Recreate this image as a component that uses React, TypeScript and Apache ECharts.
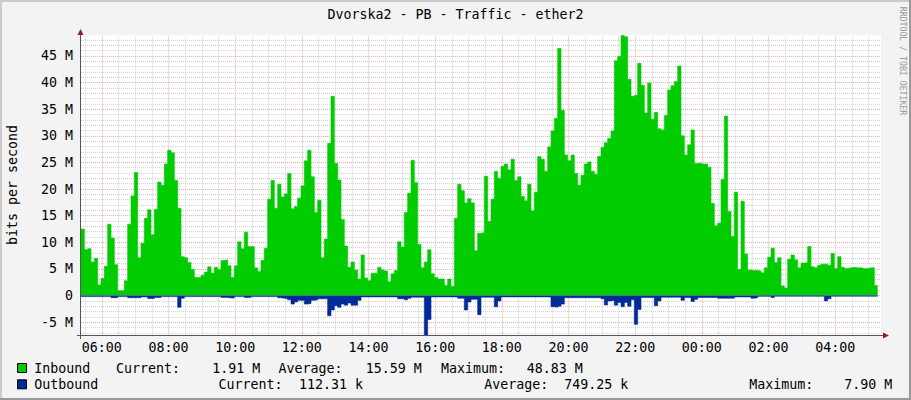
import React, { useEffect, useRef } from "react";
import * as echarts from "echarts";

// Time axis: hours since midnight of the first day (sample i covers START_HOUR + i*STEP .. +STEP)
const START_HOUR = 5.375;
const END_HOUR = 29.375;
const STEP_HOURS = 0.1;

// Inbound traffic, Mbit/s
const inbound = [
  12.5, 8.6, 8.8, 6.3, 7.0, 2.0, 3.2, 5.5, 13.4, 10.8,
  5.8, 0.9, 0.9, 2.8, 13.4, 18.7, 23.1, 7.1, 9.8, 14.5,
  16.1, 11.4, 16.2, 21.3, 20.7, 24.7, 27.3, 26.8, 21.6, 16.4,
  7.3, 7.1, 6.2, 4.9, 3.4, 3.4, 3.8, 4.4, 5.4, 4.2,
  5.3, 4.9, 6.6, 6.7, 5.6, 3.4, 5.6, 10.1, 8.8, 11.9,
  9.2, 9.2, 5.2, 4.5, 6.6, 8.9, 18.1, 21.6, 16.4, 20.9,
  18.5, 19.1, 22.9, 16.3, 16.7, 18.3, 20.6, 25.3, 27.3, 22.3,
  15.6, 17.9, 7.1, 10.6, 28.6, 37.4, 24.8, 21.7, 14.3, 9.3,
  5.3, 6.3, 4.8, 3.1, 7.6, 3.3, 2.8, 4.2, 4.2, 5.3,
  4.8, 4.6, 2.6, 4.1, 4.7, 10.1, 9.1, 15.6, 19.2, 25.4,
  21.2, 9.6, 5.2, 6.3, 8.6, 4.1, 3.4, 3.1, 3.1, 1.9,
  3.1, 1.7, 14.5, 20.9, 19.7, 17.4, 18.2, 17.4, 8.4, 11.7,
  11.8, 22.4, 13.9, 18.1, 23.3, 22.0, 24.3, 24.7, 23.6, 25.6,
  21.6, 22.3, 18.6, 17.8, 20.9, 15.9, 19.4, 26.1, 25.6, 23.3,
  27.9, 30.9, 33.3, 46.4, 34.8, 26.4, 25.3, 26.4, 22.9, 20.7,
  22.6, 24.7, 25.1, 23.3, 22.8, 26.1, 27.8, 28.7, 29.5, 30.9,
  44.1, 44.9, 48.83, 48.6, 40.6, 37.4, 37.6, 43.6, 39.5, 34.3,
  39.9, 33.1, 34.4, 31.3, 31.1, 33.8, 38.6, 39.4, 40.2, 43.1,
  30.0, 26.4, 28.3, 31.1, 24.8, 24.9, 24.7, 24.7, 24.1, 17.3,
  13.1, 13.6, 21.8, 33.7, 15.8, 11.1, 19.4, 4.9, 17.7, 7.8,
  4.8, 4.7, 4.7, 4.6, 4.3, 5.2, 7.2, 8.9, 6.2, 7.1,
  1.8, 1.4, 6.8, 7.6, 6.7, 5.2, 6.1, 6.2, 9.2, 5.4,
  5.2, 5.7, 5.9, 5.9, 5.7, 7.9, 5.1, 7.3, 5.3, 5.1,
  5.2, 5.3, 5.2, 5.2, 5.1, 5.1, 5.2, 5.2, 1.91,
];

// Outbound traffic, Mbit/s (drawn below zero)
const outbound = [
  -0.2, -0.2, -0.2, -0.2, -0.2, -0.2, -0.2, -0.2, -0.2, -0.4,
  -0.4, -0.2, -0.2, -0.2, -0.4, -0.4, -0.4, -0.4, -0.25, -0.25,
  -0.55, -0.55, -0.35, -0.35, -0.2, -0.2, -0.2, -0.2, -0.2, -2.2,
  -0.5, -0.2, -0.2, -0.2, -0.2, -0.2, -0.2, -0.2, -0.2, -0.2,
  -0.2, -0.2, -0.35, -0.35, -0.45, -0.45, -0.2, -0.2, -0.2, -0.35,
  -0.35, -0.2, -0.2, -0.2, -0.2, -0.2, -0.2, -0.2, -0.2, -0.4,
  -0.5, -0.6, -0.8, -1.6, -1.2, -0.9, -0.9, -1.6, -1.5, -0.9,
  -0.8, -0.6, -0.6, -0.6, -3.8, -2.7, -1.9, -2.2, -1.6, -1.8,
  -1.4, -1.8, -1.8, -0.9, -0.25, -0.25, -0.25, -0.25, -0.25, -0.25,
  -0.25, -0.25, -0.25, -0.25, -0.25, -0.6, -0.6, -0.8, -0.5, -0.3,
  -0.3, -0.3, -0.3, -7.45, -4.5, -0.25, -0.25, -0.25, -0.25, -0.25,
  -0.25, -0.25, -0.25, -0.5, -0.5, -2.7, -1.2, -0.7, -0.7, -3.6,
  -0.3, -0.3, -0.3, -0.3, -2.1, -1.0, -0.25, -0.25, -0.25, -0.25,
  -0.25, -0.25, -0.25, -0.25, -0.25, -0.25, -0.25, -0.25, -0.25, -0.25,
  -0.25, -2.1, -2.2, -2.0, -1.6, -0.4, -0.4, -0.4, -0.4, -0.4,
  -0.4, -0.4, -0.4, -0.4, -0.4, -0.4, -0.6, -1.75, -1.0, -0.9,
  -1.8, -1.3, -2.1, -1.3, -2.0, -0.8, -5.4, -2.6, -0.35, -0.35,
  -0.35, -0.35, -1.9, -1.0, -0.3, -0.3, -0.3, -0.3, -0.3, -0.3,
  -0.9, -0.35, -0.35, -1.1, -0.7, -0.35, -0.35, -0.35, -0.35, -0.35,
  -0.35, -0.5, -0.5, -0.5, -0.5, -0.5, -0.25, -0.25, -0.25, -0.25,
  -0.25, -0.5, -0.4, -0.15, -0.15, -0.15, -0.15, -0.35, -0.12, -0.12,
  -0.12, -0.12, -0.12, -0.12, -0.12, -0.12, -0.12, -0.12, -0.12, -0.12,
  -0.12, -0.12, -0.12, -1.0, -0.6, -0.12, -0.12, -0.12, -0.12, -0.12,
  -0.12, -0.12, -0.12, -0.12, -0.12, -0.12, -0.12, -0.12, -0.11,
];

const Y_MIN = -7.5;
const Y_MAX = 48.83;

// grid lines: every half hour (red on even hours), every 1 M (red on multiples of 5)
const X_GRID_FIRST = 5.5;
const X_GRID_LAST = 29.0;
const Y_GRID_FIRST = -7;
const Y_GRID_LAST = 48;

const TITLE = "Dvorska2 - PB - Traffic - ether2";
const Y_NAME = "bits per second";
const CREDIT = "RRDTOOL / TOBI OETIKER";

const legendRows = [
  {
    name: "Inbound",
    color: "#00CC00",
    items: [
      ["Current:", 116], ["1.91 M", 212.3],
      ["Average:", 278.5], ["15.59 M", 365.8],
      ["Maximum:", 441], ["48.83 M", 526.8],
    ],
  },
  {
    name: "Outbound",
    color: "#002A97",
    items: [
      ["Current:", 218.5], ["112.31 k", 299],
      ["Average:", 484.3], ["749.25 k", 564.2],
      ["Maximum:", 749.3], ["7.90 M", 844.2],
    ],
  },
];

const FONT = '"DejaVu Sans Mono", "Liberation Mono", monospace';
const FS = 13.3;
const MINOR = "#d2d2d2";
const MAJOR = "#eeaaaa";

// each sample is held flat over its interval (RRD-style steps)
function toStepPoints(values: number[]) {
  const pts: number[][] = [];
  values.forEach((v, i) => {
    pts.push([START_HOUR + i * STEP_HOURS, v]);
    pts.push([START_HOUR + (i + 1) * STEP_HOURS, v]);
  });
  return pts;
}

function pad(n: number) {
  return n < 10 ? "0" + n : "" + n;
}

function gridMarkLines() {
  const lines: any[] = [];
  for (let k = 0; X_GRID_FIRST + k * 0.5 <= X_GRID_LAST + 1e-9; k++) {
    const h = X_GRID_FIRST + k * 0.5;
    const major = Math.abs(h - Math.round(h)) < 1e-9 && Math.round(h) % 2 === 0;
    lines.push({ xAxis: h, lineStyle: { color: major ? MAJOR : MINOR, type: [1, 1], width: 1 } });
  }
  for (let v = Y_GRID_FIRST; v <= Y_GRID_LAST; v++) {
    const major = v % 5 === 0;
    lines.push({ yAxis: v, lineStyle: { color: major ? MAJOR : MINOR, type: [1, 1], width: 1 } });
  }
  return lines;
}

export default function App() {
  const ref = useRef<HTMLDivElement>(null);

  useEffect(() => {
    if (!ref.current) return;
    const chart = echarts.init(ref.current, undefined, { renderer: "svg" });

    const legendGraphics: any[] = [];
    legendRows.forEach((row, r) => {
      const cy = r === 0 ? 368 : 384.3;
      legendGraphics.push({
        type: "rect",
        shape: { x: 17.5, y: cy - 4.5, width: 9, height: 9 },
        style: { fill: row.color, stroke: "#000", lineWidth: 1 },
      });
      legendGraphics.push({
        type: "text",
        x: 34.2,
        y: cy,
        style: { text: row.name, fill: "#000", fontFamily: FONT, fontSize: FS, align: "left", verticalAlign: "middle" },
      });
      row.items.forEach(([txt, x]) => {
        legendGraphics.push({
          type: "text",
          x: x as number,
          y: cy,
          style: { text: txt as string, fill: "#000", fontFamily: FONT, fontSize: FS, align: "left", verticalAlign: "middle" },
        });
      });
    });

    const option: any = {
      animation: false,
      backgroundColor: "#f3f3f3",
      grid: {
        left: 81,
        top: 35.5,
        width: 800,
        height: 300,
        show: true,
        backgroundColor: "#ffffff",
        borderWidth: 0,
        containLabel: false,
      },
      xAxis: {
        type: "value",
        min: START_HOUR,
        max: END_HOUR,
        interval: 0.125,
        axisLine: { show: false },
        axisTick: { show: false },
        splitLine: { show: false },
        axisLabel: {
          show: true,
          margin: 5,
          color: "#000",
          fontFamily: FONT,
          fontSize: FS,
          formatter: (v: number) => {
            const h = Math.round(v);
            if (Math.abs(v - h) < 1e-6 && h % 2 === 0) return pad(h % 24) + ":00";
            return "";
          },
        },
      },
      yAxis: {
        type: "value",
        min: Y_MIN,
        max: Y_MAX,
        interval: 0.5,
        axisLine: { show: false },
        axisTick: { show: false },
        splitLine: { show: false },
        axisLabel: {
          show: true,
          margin: 8,
          color: "#000",
          fontFamily: FONT,
          fontSize: FS,
          formatter: (v: number) => {
            const r = Math.round(v);
            if (Math.abs(v - r) < 1e-6 && r % 5 === 0) return r === 0 ? "0" : r + " M";
            return "";
          },
        },
      },
      series: [
        {
          type: "line",
          name: "grid",
          data: [],
          symbol: "none",
          silent: true,
          z: 1,
          markLine: {
            silent: true,
            symbol: ["none", "none"],
            label: { show: false },
            emphasis: { disabled: true },
            animation: false,
            z: 1,
            data: gridMarkLines(),
          },
        },
        {
          type: "line",
          name: "Inbound",
          symbol: "none",
          silent: true,
          clip: false,
          data: toStepPoints(inbound),
          lineStyle: { width: 0.6, color: "#00CC00" },
          itemStyle: { color: "#00CC00" },
          areaStyle: { color: "#00CC00", opacity: 1 },
          z: 2,
        },
        {
          type: "line",
          name: "Outbound",
          symbol: "none",
          silent: true,
          clip: false,
          data: toStepPoints(outbound),
          lineStyle: { width: 0.6, color: "#002A97" },
          itemStyle: { color: "#002A97" },
          areaStyle: { color: "#002A97", opacity: 1 },
          z: 3,
        },
      ],
      graphic: [
        // frame
        { type: "rect", shape: { x: 0, y: 0, width: 911, height: 2 }, style: { fill: "#cbcbcb" }, z: 10 },
        { type: "rect", shape: { x: 0, y: 0, width: 2, height: 400 }, style: { fill: "#cbcbcb" }, z: 10 },
        { type: "rect", shape: { x: 0, y: 398, width: 911, height: 2 }, style: { fill: "#999999" }, z: 10 },
        { type: "rect", shape: { x: 909, y: 0, width: 2, height: 400 }, style: { fill: "#999999" }, z: 10 },
        // axes
        { type: "line", shape: { x1: 80.5, y1: 339, x2: 80.5, y2: 33 }, style: { stroke: "#555", lineWidth: 1 }, z: 10 },
        { type: "line", shape: { x1: 77, y1: 335.5, x2: 884, y2: 335.5 }, style: { stroke: "#555", lineWidth: 1 }, z: 10 },
        { type: "polygon", shape: { points: [[80.5, 29], [77.5, 35], [83.5, 35]] }, style: { fill: "#9b1c1c" }, z: 10 },
        { type: "polygon", shape: { points: [[889, 335.5], [883, 332.5], [883, 338.5]] }, style: { fill: "#9b1c1c" }, z: 10 },
        // title
        {
          type: "text",
          x: 455.5,
          y: 14,
          style: { text: TITLE, fill: "#000", fontFamily: FONT, fontSize: FS, align: "center", verticalAlign: "middle" },
        },
        // y axis name
        {
          type: "text",
          x: 12,
          y: 185,
          rotation: Math.PI / 2,
          style: { text: Y_NAME, fill: "#000", fontFamily: FONT, fontSize: FS, align: "center", verticalAlign: "middle" },
        },
        // credit
        {
          type: "text",
          x: 903,
          y: 61,
          rotation: -Math.PI / 2,
          style: { text: CREDIT, fill: "#999999", fontFamily: FONT, fontSize: 8.2, align: "center", verticalAlign: "middle" },
        },
        ...legendGraphics,
      ],
    };

    chart.setOption(option);
    return () => chart.dispose();
  }, []);

  return (
    <div
      ref={ref}
      style={{ position: "fixed", left: 0, top: 0, width: 911, height: 400 }}
    />
  );
}
